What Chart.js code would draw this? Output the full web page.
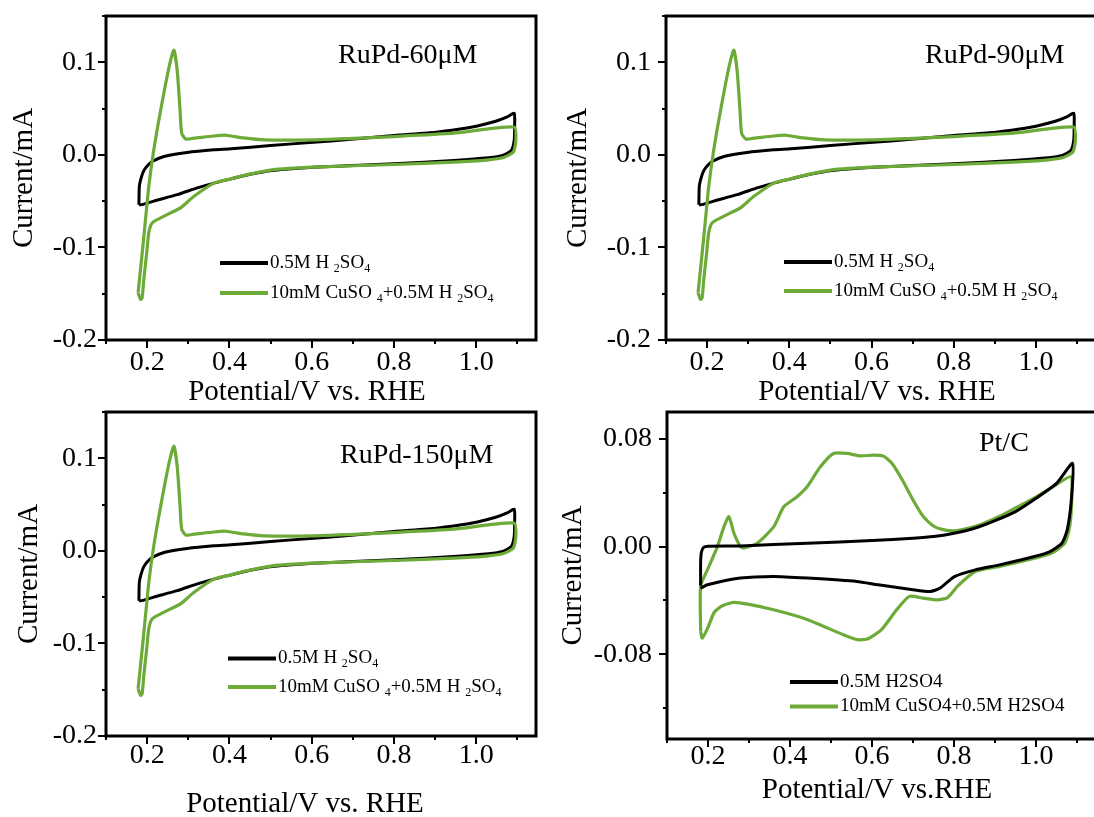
<!DOCTYPE html>
<html>
<head>
<meta charset="utf-8">
<script src="https://cdn.jsdelivr.net/npm/chart.js@4.4.0/dist/chart.umd.min.js"></script>
<style>
  html, body { margin: 0; padding: 0; background: #fff; overflow: hidden; }
  body { width: 1094px; height: 817px; position: relative; }
  canvas { position: absolute; }
</style>
</head>
<body>
<canvas id="c1"></canvas>
<canvas id="c2"></canvas>
<canvas id="c3"></canvas>
<canvas id="c4"></canvas>
<script>
// RuPd loops (the three RuPd panels show the same curves)
const rupdBlankV = [0.180, 0.181, 0.186, 0.192, 0.200, 0.212, 0.241, 0.297, 0.362, 0.404, 0.500, 0.604, 0.689, 0.800, 0.902, 0.960, 1.000, 1.047, 1.075, 1.092,
  1.093, 1.092, 1.085, 1.064, 1.030, 0.945, 0.800, 0.604, 0.504, 0.450, 0.404, 0.362, 0.320, 0.273, 0.216, 0.190, 0.180];
const rupdBlankI = [-0.054, -0.034, -0.024, -0.017, -0.012, -0.0072, -0.0018, 0.0025, 0.0054, 0.0065, 0.0100, 0.0137, 0.0165, 0.0210, 0.0245, 0.0280, 0.0310, 0.0363, 0.0410, 0.0450,
  0.0300, 0.0155, 0.0047, -0.0007, -0.0032, -0.0061, -0.0097, -0.0133, -0.0169, -0.0210, -0.0259, -0.0305, -0.0360, -0.0430, -0.0500, -0.0535, -0.0540];

const rupdCuV = [0.178, 0.188, 0.196, 0.204, 0.215, 0.2285, 0.245, 0.257, 0.265, 0.273, 0.280, 0.284, 0.294, 0.314, 0.362, 0.391, 0.434, 0.485, 0.604, 0.689, 0.800, 0.945, 1.092,
  1.096, 1.090, 1.064, 1.030, 0.945, 0.800, 0.604, 0.504, 0.434, 0.404, 0.362, 0.314, 0.281, 0.257, 0.233, 0.212, 0.204, 0.199, 0.192, 0.188, 0.184, 0.178];
const rupdCuI = [-0.149, -0.106, -0.070, -0.034, 0.002, 0.0376, 0.077, 0.102, 0.113, 0.0914, 0.048, 0.0233, 0.0172, 0.018, 0.0204, 0.0212, 0.0183, 0.0162, 0.0162, 0.0176, 0.0198, 0.0234, 0.030,
  0.0155, 0.003, -0.0032, -0.0054, -0.0079, -0.0104, -0.0133, -0.0162, -0.0223, -0.0259, -0.0305, -0.0448, -0.0573, -0.0627, -0.068, -0.0735, -0.084, -0.1057, -0.134, -0.154, -0.156, -0.149];

// Pt/C loops
const ptBlankV = [0.182, 0.182, 0.184, 0.190, 0.200, 0.279, 0.442, 0.600, 0.700, 0.750, 0.800, 0.850, 0.900, 0.950, 1.000, 1.050, 1.089,
  1.086, 1.076, 1.063, 1.034, 0.996, 0.911, 0.852, 0.801, 0.765, 0.742, 0.700, 0.615, 0.563, 0.442, 0.360, 0.279, 0.1985, 0.182];
const ptBlankI = [-0.029, -0.012, -0.004, -0.0005, 0.0003, 0.0005, 0.0025, 0.0045, 0.0062, 0.0074, 0.0099, 0.0136, 0.0193, 0.0260, 0.0359, 0.0470, 0.0618,
  0.0346, 0.0124, 0.0025, -0.0037, -0.0074, -0.0136, -0.0173, -0.0223, -0.0310, -0.0334, -0.0321, -0.0284, -0.0259, -0.0234, -0.0222, -0.0234, -0.0284, -0.0310];

const ptCuV = [0.182, 0.182, 0.1985, 0.223, 0.239, 0.251, 0.2632, 0.279, 0.2875, 0.320, 0.3604, 0.3847, 0.4172, 0.4416, 0.474, 0.506, 0.539, 0.571, 0.6034, 0.628,
  0.649, 0.674, 0.700, 0.725, 0.750, 0.776, 0.801, 0.826, 0.869, 0.911, 0.953, 0.996, 1.038, 1.085, 1.087, 1.082, 1.070, 1.038, 0.996, 0.911, 0.852, 0.810, 0.784, 0.759,
  0.725, 0.691, 0.660, 0.623, 0.590, 0.565, 0.530, 0.440, 0.360, 0.300, 0.263, 0.235, 0.215, 0.200, 0.186, 0.182];
const ptCuI = [-0.063, -0.0296, -0.0173, 0.0, 0.0148, 0.0222, 0.0099, 0.0, -0.0012, 0.0025, 0.0148, 0.0296, 0.037, 0.0444, 0.0593, 0.0692, 0.0692, 0.0674, 0.0679, 0.0672,
  0.0618, 0.0495, 0.0346, 0.0223, 0.0153, 0.0124, 0.0117, 0.0130, 0.0168, 0.0225, 0.0292, 0.0362, 0.0438, 0.0519, 0.0346, 0.0148, 0.0025, -0.0049, -0.0087, -0.0148, -0.0185, -0.029, -0.038, -0.0396,
  -0.0383, -0.037, -0.047, -0.0618, -0.0685, -0.0692, -0.0655, -0.054, -0.047, -0.043, -0.0415, -0.044, -0.049, -0.06, -0.068, -0.063];

// tick labels
const xTickLabels = ['0.2', '0.4', '0.6', '0.8', '1.0'];
const rupdYTickLabels = ['-0.2', '-0.1', '0.0', '0.1'];
const ptYTickLabels = ['-0.08', '0.00', '0.08'];

const rupdLabels = ['0.5M H \u2082SO\u2084', '10mM CuSO \u2084+0.5M H \u2082SO\u2084'];
const ptLabels = ['0.5M H2SO4', '10mM CuSO4+0.5M H2SO4'];

const FONT = "'Liberation Serif', 'Times New Roman', serif";
const GREEN = '#6cab38';
const SUBS = '\u2080\u2081\u2082\u2083\u2084\u2085\u2086\u2087\u2088\u2089';

function toPoints(xs, ys) {
  return xs.map((x, i) => ({ x: x, y: ys[i] }));
}

function tickText(list, v) {
  const hit = list.find(t => Math.abs(parseFloat(t) - v) < 1e-6);
  return hit === undefined ? '' : hit;
}

// text with unicode subscript digits drawn as small lowered digits
function drawRich(ctx, text, x, y, size) {
  let cx = x;
  for (const ch of text) {
    const k = SUBS.indexOf(ch);
    if (k >= 0) {
      ctx.font = Math.round(size * 0.62) + 'px ' + FONT;
      ctx.fillText(String(k), cx, y + size * 0.3);
      cx += ctx.measureText(String(k)).width;
    } else {
      ctx.font = size + 'px ' + FONT;
      ctx.fillText(ch, cx, y);
      cx += ctx.measureText(ch).width;
    }
  }
}

const panelDeco = {
  id: 'panelDeco',
  afterDraw(chart, args, opts) {
    const ctx = chart.ctx;
    const a = chart.chartArea;
    const xs = chart.scales.x, ys = chart.scales.y;
    ctx.save();
    ctx.strokeStyle = '#000';
    ctx.lineWidth = 2;
    xs.ticks.forEach(t => {
      const px = Math.round(xs.getPixelForValue(t.value));
      const len = t.label ? 8 : 4;
      ctx.beginPath();
      ctx.moveTo(px, a.bottom);
      ctx.lineTo(px, a.bottom + len);
      ctx.stroke();
    });
    ys.ticks.forEach(t => {
      const py = Math.round(ys.getPixelForValue(t.value));
      const len = t.label ? 8 : 4;
      ctx.beginPath();
      ctx.moveTo(a.left, py);
      ctx.lineTo(a.left - len, py);
      ctx.stroke();
    });
    // frame
    ctx.lineWidth = 3;
    ctx.strokeRect(a.left, a.top, a.right - a.left, a.bottom - a.top);

    ctx.fillStyle = '#000';
    ctx.textBaseline = 'middle';

    // x axis title (sits a little left of the plot centre in the original)
    ctx.textAlign = 'center';
    ctx.font = '29px ' + FONT;
    ctx.fillText(opts.xTitle, opts.xTitleX, opts.xTitleY);

    // panel name
    ctx.textAlign = 'left';
    ctx.font = '28px ' + FONT;
    ctx.fillText(opts.name, opts.nameX, opts.nameY);

    // legend
    const order = [0, 1];
    order.forEach((di, row) => {
      const ds = chart.data.datasets[di];
      const y = opts.legendY + row * opts.legendGap;
      ctx.strokeStyle = ds.borderColor;
      ctx.lineWidth = 4;
      ctx.beginPath();
      ctx.moveTo(opts.legendX, y);
      ctx.lineTo(opts.legendX + 48, y);
      ctx.stroke();
      ctx.fillStyle = '#000';
      drawRich(ctx, ds.label, opts.legendX + 50, y, 19);
    });
    ctx.restore();
  }
};

const panels = [
  { id: 'c1', x: 0, y: 0, w: 547, h: 408, plot: [106, 16, 536, 340],
    blank: [rupdBlankV, rupdBlankI], cu: [rupdCuV, rupdCuI], labels: rupdLabels,
    yMin: -0.2, yMax: 0.15, yStep: 0.05, yTicks: rupdYTickLabels, greenTop: true,
    yTickPad: 9, yTitlePad: 10, xTickPad: 6,
    deco: { name: 'RuPd-60\u03bcM', nameX: 338, nameY: 56, legendX: 220, legendY: 263, legendGap: 30,
            xTitle: 'Potential/V vs. RHE', xTitleX: 307, xTitleY: 392 } },
  { id: 'c2', x: 547, y: 0, w: 552, h: 408, plot: [666, 16, 1095.5, 340],
    blank: [rupdBlankV, rupdBlankI], cu: [rupdCuV, rupdCuI], labels: rupdLabels,
    yMin: -0.2, yMax: 0.15, yStep: 0.05, yTicks: rupdYTickLabels, greenTop: true,
    yTickPad: 15, yTitlePad: 16.5, xTickPad: 6,
    deco: { name: 'RuPd-90\u03bcM', nameX: 378, nameY: 56, legendX: 237, legendY: 262, legendGap: 29,
            xTitle: 'Potential/V vs. RHE', xTitleX: 330, xTitleY: 392 } },
  { id: 'c3', x: 0, y: 400, w: 547, h: 417, plot: [106, 412, 536, 736],
    blank: [rupdBlankV, rupdBlankI], cu: [rupdCuV, rupdCuI], labels: rupdLabels,
    yMin: -0.2, yMax: 0.15, yStep: 0.05, yTicks: rupdYTickLabels, greenTop: true,
    yTickPad: 9, yTitlePad: 15, xTickPad: 3,
    deco: { name: 'RuPd-150\u03bcM', nameX: 340, nameY: 56, legendX: 228, legendY: 258.5, legendGap: 28.5,
            xTitle: 'Potential/V vs. RHE', xTitleX: 305, xTitleY: 404 } },
  { id: 'c4', x: 547, y: 400, w: 552, h: 417, plot: [667, 412, 1095.5, 739],
    blank: [ptBlankV, ptBlankI], cu: [ptCuV, ptCuI], labels: ptLabels,
    yMin: -0.143, yMax: 0.1, yStep: 0.04, yTicks: ptYTickLabels, greenTop: false,
    yTickPad: 15, yTitlePad: 11.5, xTickPad: 1,
    deco: { name: 'Pt/C', nameX: 432, nameY: 44, legendX: 243, legendY: 282, legendGap: 24.5,
            xTitle: 'Potential/V vs.RHE', xTitleX: 330, xTitleY: 390 } }
];

function makeChart(p) {
  const canvas = document.getElementById(p.id);
  canvas.width = p.w;
  canvas.height = p.h;
  canvas.style.left = p.x + 'px';
  canvas.style.top = p.y + 'px';
  const [pl, pt, pr, pb] = p.plot;

  const data = {
    datasets: [
      {
        label: p.labels[0],
        data: toPoints(p.blank[0], p.blank[1]),
        showLine: true,
        borderColor: '#000',
        borderWidth: 3,
        pointRadius: 0,
        tension: 0.2,
        order: p.greenTop ? 1 : 0,
      },
      {
        label: p.labels[1],
        data: toPoints(p.cu[0], p.cu[1]),
        showLine: true,
        borderColor: GREEN,
        borderWidth: 3.2,
        pointRadius: 0,
        tension: 0.2,
        order: p.greenTop ? 0 : 1,
      },
    ],
  };

  const config = {
    type: 'scatter',
    data,
    options: {
      responsive: false,
      animation: false,
      devicePixelRatio: 1,
      layout: {
        autoPadding: false,
        padding: { left: 0, top: pt - p.y, right: p.x + p.w - pr, bottom: 0 },
      },
      plugins: {
        legend: { display: false },
        tooltip: { enabled: false },
        panelDeco: p.deco,
      },
      scales: {
        x: {
          type: 'linear',
          position: 'bottom',
          min: 0.1,
          max: 1.145,
          grid: { display: false, drawTicks: false },
          border: { display: false },
          ticks: {
            stepSize: 0.1,
            includeBounds: false,
            autoSkip: false,
            maxRotation: 0,
            padding: p.xTickPad,
            color: '#000',
            font: { family: FONT, size: 28 },
            callback: v => tickText(xTickLabels, v),
          },
          afterFit: s => {
            s.height = p.y + p.h - pb;
            s.paddingLeft = 0;
            s.paddingRight = 0;
          },
        },
        y: {
          type: 'linear',
          position: 'left',
          min: p.yMin,
          max: p.yMax,
          grid: { display: false, drawTicks: false },
          border: { display: false },
          ticks: {
            stepSize: p.yStep,
            includeBounds: false,
            autoSkip: false,
            padding: p.yTickPad,
            color: '#000',
            font: { family: FONT, size: 28 },
            callback: v => tickText(p.yTicks, v),
          },
          title: {
            display: true,
            text: 'Current/mA',
            color: '#000',
            font: { family: FONT, size: 29, lineHeight: 1 },
            padding: { top: p.yTitlePad, bottom: 0 },
          },
          afterFit: s => {
            s.width = pl - p.x;
            // keep label overhang from pushing the plot area down
            s.paddingTop = 0;
            s.paddingBottom = 0;
          },
        },
      },
    },
    plugins: [panelDeco],
  };

  return new Chart(canvas, config);
}

panels.forEach(makeChart);
</script>
</body>
</html>
